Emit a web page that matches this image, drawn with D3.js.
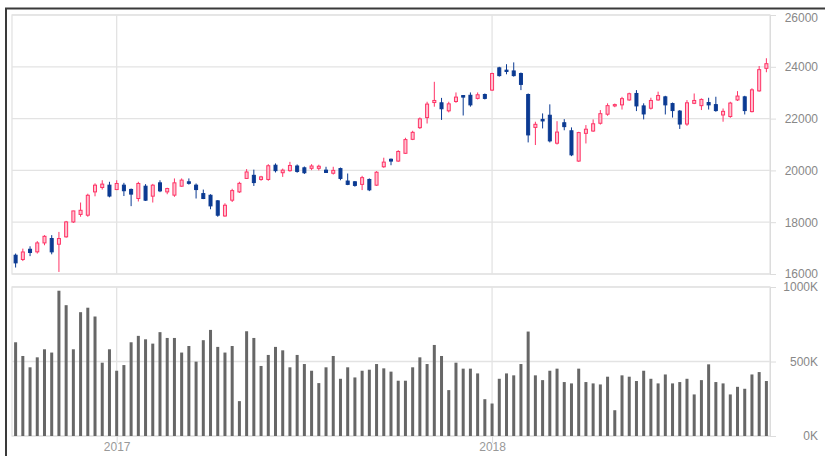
<!DOCTYPE html>
<html>
<head>
<meta charset="utf-8">
<script src="https://cdn.jsdelivr.net/npm/d3@7"></script>
<style>
body { margin: 0; background: #fff; }
svg { display: block; font-family: "DejaVu Sans", sans-serif; }
.axis text { fill: #888; font-size: 12px; }
.axis line, .axis path { stroke: #dcdcdc; }
</style>
</head>
<body>
<svg id="chart" width="825" height="456"></svg>
<script>
// weekly candles, Sep 2016 - Sep 2018
var opens = [16725,16560,16955,16855,17200,17370,17150,17435,18010,18300,18270,19170,19340,19430,19260,19430,19265,18915,19390,19005,
  19520,19170,19045,19390,19560,19430,19105,19040,18825,18240,18850,19170,19690,19810,19650,19650,20200,19910,19990,20170,
  20100,20080,20080,20010,19890,20070,19590,19560,19460,19650,19430,20140,20430,20360,20660,21200,21650,22040,22620,22610,
  22300,22660,22890,22900,22780,22930,23100,23960,23870,23840,23740,22930,21660,21970,22130,21050,21840,21530,20360,21430,
  21520,21820,22170,22490,22530,22720,22970,22490,22400,22720,22840,22580,22290,21790,22590,22500,22620,22540,22140,22080,
  22720,22840,22270,23070,23940];
var highs = [16790,16980,17070,17270,17500,17500,17625,18050,18440,18760,19100,19500,19620,19560,19620,19520,19300,19560,19470,19480,
  19620,19330,19690,19690,19690,19495,19260,19080,18850,18730,19290,19560,20050,20030,19790,20240,20270,20070,20330,20230,
  20150,20240,20220,20140,20140,20110,19880,19590,19790,19690,19970,20490,20460,20780,21260,21530,22045,22650,23420,22800,
  22650,23010,22900,23010,23010,22970,23770,24000,24100,24170,23780,22970,21880,22200,22550,21900,21980,21660,21490,21750,
  21970,22330,22590,22580,22840,23000,23100,22590,22805,23040,22880,22620,22330,22715,22970,22780,22805,22844,22390,22650,
  23060,22880,23170,24030,24330];
var lows = [16250,16500,16690,16790,17110,16760,16080,17400,17970,18210,18210,19000,19260,18960,19240,19010,18620,18800,18820,18760,
  19160,19080,18980,19370,19450,18915,18890,18500,18210,18210,18780,19130,19680,19400,19600,19600,19920,19750,19950,19910,
  19860,20010,20000,19910,19840,19620,19430,19370,19240,19200,19400,20100,20200,20330,20640,21170,21600,21810,22460,21950,
  22240,22610,22120,22460,22740,22740,23070,23620,23710,23620,23100,21080,20980,21620,21080,21000,21550,20550,20330,21040,
  21490,21770,22110,22440,22350,22690,22290,21970,22350,22690,22160,22040,21600,21720,22560,22330,22350,22264,21880,22030,
  22680,22160,22240,23040,23790];
var closes = [16430,16850,16830,17200,17455,16855,17370,18010,18435,18460,19040,19430,19470,19010,19495,19215,19085,19495,18850,19430,
  19210,19300,19520,19625,19500,19260,18915,18630,18270,18655,19220,19500,19940,19530,19750,20180,19990,20010,20190,19960,
  19910,20170,20160,19920,20000,19690,19460,19420,19720,19250,19930,20320,20360,20730,21190,21470,21990,22560,22700,22380,
  22570,22830,22830,22530,22920,22780,23740,23660,23820,23660,23320,21370,21780,21910,21140,21480,21690,20600,21460,21590,
  21800,22190,22500,22540,22770,22960,22490,22180,22700,22890,22530,22310,21790,22610,22700,22740,22530,22310,22280,22600,
  22870,22310,23110,23890,24120];
// volume, thousands
var volumes = [629,537,461,528,582,560,975,878,582,831,861,802,492,582,438,476,629,672,649,620,
  697,658,658,560,604,499,643,712,598,560,604,234,703,658,470,544,598,575,461,544,
  483,438,355,461,537,384,461,393,438,445,483,454,432,371,371,461,528,483,611,537,
  308,492,452,452,420,247,218,384,420,407,483,701,407,375,438,452,362,353,452,362,
  353,346,398,173,407,398,369,438,384,353,413,353,362,384,279,375,481,362,353,279,
  330,317,413,429,369];
var priceTicks = [16000,18000,20000,22000,24000,26000];
var volumeTicks = [0,500,1000];

var weeks = d3.timeMonday.range(new Date(2016, 8, 26), new Date(2018, 8, 25));

var left = 12, right = 770;
var pTop = 15, pBottom = 274, vTop = 287, vBottom = 436;
var upColor = "#ff3366", upFill = "#ffc2d0", downColor = "#0b3a92";
var gridColor = "#e3e3e3";

var svg = d3.select("#chart");

var x = d3.scalePoint().domain(d3.range(weeks.length)).range([left, right]).padding(0.5);
var y = d3.scaleLinear().domain([16000, 26000]).range([pBottom, pTop]);
var yv = d3.scaleLinear().domain([0, 1000]).range([vBottom, vTop]);

var yearIdx = d3.range(weeks.length).filter(function(i) {
  return i > 0 && weeks[i].getFullYear() !== weeks[i - 1].getFullYear();
});

// outer frame
svg.append("path")
  .attr("d", "M6,456V8.5H825")
  .attr("fill", "none")
  .attr("stroke", "#3a3a3a")
  .attr("stroke-width", 2);

// grid
var grid = svg.append("g").attr("stroke", gridColor).attr("stroke-width", 1.3);

grid.selectAll(".hp").data(priceTicks).enter().append("line")
  .attr("x1", left).attr("x2", right)
  .attr("y1", function(d) { return y(d); })
  .attr("y2", function(d) { return y(d); });

grid.selectAll(".hv").data(volumeTicks).enter().append("line")
  .attr("x1", left).attr("x2", right)
  .attr("y1", function(d) { return yv(d); })
  .attr("y2", function(d) { return yv(d); });

grid.selectAll(".vp").data(yearIdx).enter().append("line")
  .attr("x1", function(d) { return x(d); }).attr("x2", function(d) { return x(d); })
  .attr("y1", pTop).attr("y2", pBottom);

grid.selectAll(".vv").data(yearIdx).enter().append("line")
  .attr("x1", function(d) { return x(d); }).attr("x2", function(d) { return x(d); })
  .attr("y1", vTop).attr("y2", vBottom);

grid.append("rect").attr("x", left).attr("y", pTop)
  .attr("width", right - left).attr("height", pBottom - pTop).attr("fill", "none");
grid.append("rect").attr("x", left).attr("y", vTop)
  .attr("width", right - left).attr("height", vBottom - vTop).attr("fill", "none");

// axes
var yAxis = svg.append("g").attr("class", "axis")
  .attr("transform", "translate(" + right + ",0)")
  .call(d3.axisRight(y).tickValues(priceTicks).tickSize(6).tickSizeOuter(0).tickFormat(d3.format("d")));
yAxis.selectAll("text").attr("x", 48).attr("text-anchor", "end")
  .attr("transform", function(d) { return d === 26000 ? "translate(0,3)" : null; });

var vAxis = svg.append("g").attr("class", "axis")
  .attr("transform", "translate(" + right + ",0)")
  .call(d3.axisRight(yv).tickValues(volumeTicks).tickSize(6).tickSizeOuter(0).tickFormat(function(d) { return d + "K"; }));
vAxis.selectAll("text").attr("x", 48).attr("text-anchor", "end");

var xAxis = svg.append("g").attr("class", "axis")
  .attr("transform", "translate(0," + vBottom + ")")
  .call(d3.axisBottom(x).tickValues(yearIdx).tickSize(7).tickPadding(-1).tickFormat(function(i) { return weeks[i].getFullYear(); }));
xAxis.select(".domain").remove();
xAxis.selectAll("text").style("fill", "#999");

// volume
svg.append("g").selectAll("rect").data(volumes).enter().append("rect")
  .attr("x", function(d, i) { return x(i) - 1.5; })
  .attr("width", 3)
  .attr("y", function(d) { return yv(d); })
  .attr("height", function(d) { return vBottom - yv(d); })
  .attr("fill", "#676767");

// candles
var candle = svg.append("g").selectAll("g").data(closes).enter().append("g");

candle.append("line")
  .attr("x1", function(d, i) { return x(i); })
  .attr("x2", function(d, i) { return x(i); })
  .attr("y1", function(d, i) { return y(highs[i]); })
  .attr("y2", function(d, i) { return y(lows[i]); })
  .attr("stroke", function(d, i) { return d >= opens[i] ? upColor : downColor; })
  .attr("stroke-width", 1);

candle.append("rect")
  .attr("x", function(d, i) { return x(i) - 1.5; })
  .attr("width", 3)
  .attr("y", function(d, i) { return y(Math.max(d, opens[i])); })
  .attr("height", function(d, i) { return Math.max(1, Math.abs(y(d) - y(opens[i]))); })
  .attr("fill", function(d, i) { return d >= opens[i] ? upFill : downColor; })
  .attr("stroke", function(d, i) { return d >= opens[i] ? upColor : downColor; })
  .attr("stroke-width", 1);
</script>
</body>
</html>
